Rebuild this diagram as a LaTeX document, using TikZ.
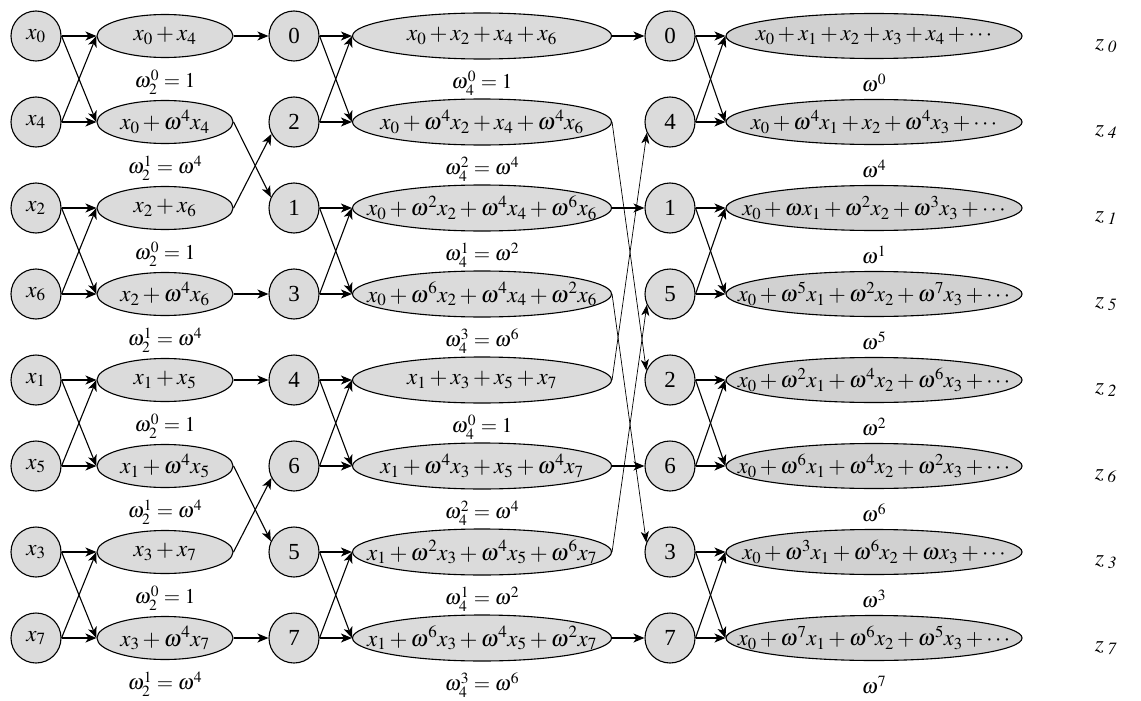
\documentclass[tikz,border=0pt]{standalone}
\usepackage{mathptmx}
\usepackage{fontspec}
\setmainfont{Liberation Serif}
\usetikzlibrary{arrows.meta,shapes.geometric}

% zero-width math text, so that an oval keeps its fixed size
\newcommand{\ovaltext}[1]{\makebox[0pt]{$#1$}}
% vertical position of row #1
\newcommand{\rowy}[1]{36+86*#1}

\tikzset{
  dotnode/.style={circle, draw, line width=1.1pt, fill=black!14,
    minimum size=50pt, inner sep=0pt, font=\fontsize{23}{26}\selectfont},
  oval/.style={ellipse, draw, line width=1.1pt, fill=black!14, inner sep=0pt,
    font=\fontsize{23}{26}\selectfont},
  ovalA/.style={oval, minimum width=136pt, minimum height=43pt},
  ovalB/.style={oval, minimum width=259pt, minimum height=46pt},
  ovalC/.style={oval, minimum width=296pt, minimum height=45pt,
    fill=black!18, font=\fontsize{22.5}{25}\selectfont},
  twiddle/.style={font=\fontsize{21}{24}\selectfont, inner sep=0pt},
  outlabel/.style={font=\fontsize{23}{25}\selectfont, inner sep=0pt},
  arr/.style={line width=1.1pt, -{Stealth[length=11pt,width=9pt,inset=3pt]}},
  longarr/.style={line width=0.7pt, -{Stealth[length=11pt,width=8pt,inset=3pt]}},
}

\begin{document}
\begin{tikzpicture}[x=1pt,y=-1pt]
\useasboundingbox (0,0) rectangle (1141,701);

% inputs in bit-reversed order
\foreach \i/\k in {0/0,1/4,2/2,3/6,4/1,5/5,6/3,7/7}
  \node[dotnode] (a\i) at (36,{\rowy{\i}}) {$x_{\k}$};

% first stage: 2-point butterflies
\foreach \i/\t in {0/{x_0+x_4},1/{x_0+\omega^4x_4},2/{x_2+x_6},3/{x_2+\omega^4x_6},
                   4/{x_1+x_5},5/{x_1+\omega^4x_5},6/{x_3+x_7},7/{x_3+\omega^4x_7}}
  \node[ovalA] (e\i) at (165,{\rowy{\i}}) {\ovaltext{\t}};
\foreach \i/\t in {0/{\omega_2^0=1},1/{\omega_2^1=\omega^4},2/{\omega_2^0=1},3/{\omega_2^1=\omega^4},
                   4/{\omega_2^0=1},5/{\omega_2^1=\omega^4},6/{\omega_2^0=1},7/{\omega_2^1=\omega^4}}
  \node[twiddle] (we\i) at (165,{\rowy{\i}+46}) {$\t$};

% intermediate indices after the first stage
\foreach \i/\k in {0/0,1/2,2/1,3/3,4/4,5/6,6/5,7/7}
  \node[dotnode] (b\i) at (294,{\rowy{\i}}) {\k};

% second stage: 4-point butterflies
\foreach \i/\t in {0/{x_0+x_2+x_4+x_6},1/{x_0+\omega^4x_2+x_4+\omega^4x_6},
                   2/{x_0+\omega^2x_2+\omega^4x_4+\omega^6x_6},3/{x_0+\omega^6x_2+\omega^4x_4+\omega^2x_6},
                   4/{x_1+x_3+x_5+x_7},5/{x_1+\omega^4x_3+x_5+\omega^4x_7},
                   6/{x_1+\omega^2x_3+\omega^4x_5+\omega^6x_7},7/{x_1+\omega^6x_3+\omega^4x_5+\omega^2x_7}}
  \node[ovalB] (f\i) at (482,{\rowy{\i}}) {\ovaltext{\t}};
\foreach \i/\t in {0/{\omega_4^0=1},1/{\omega_4^2=\omega^4},2/{\omega_4^1=\omega^2},3/{\omega_4^3=\omega^6},
                   4/{\omega_4^0=1},5/{\omega_4^2=\omega^4},6/{\omega_4^1=\omega^2},7/{\omega_4^3=\omega^6}}
  \node[twiddle] (wf\i) at (482,{\rowy{\i}+47}) {$\t$};

% indices after the second stage
\foreach \i/\k in {0/0,1/4,2/1,3/5,4/2,5/6,6/3,7/7}
  \node[dotnode] (c\i) at (670,{\rowy{\i}}) {\k};

% third stage: 8-point outputs
\foreach \i/\t in {0/{x_0+x_1+x_2+x_3+x_4+\cdots},1/{x_0+\omega^4x_1+x_2+\omega^4x_3+\cdots},
                   2/{x_0+\omega x_1+\omega^2x_2+\omega^3x_3+\cdots},3/{x_0+\omega^5x_1+\omega^2x_2+\omega^7x_3+\cdots},
                   4/{x_0+\omega^2x_1+\omega^4x_2+\omega^6x_3+\cdots},5/{x_0+\omega^6x_1+\omega^4x_2+\omega^2x_3+\cdots},
                   6/{x_0+\omega^3x_1+\omega^6x_2+\omega x_3+\cdots},7/{x_0+\omega^7x_1+\omega^6x_2+\omega^5x_3+\cdots}}
  \node[ovalC] (g\i) at (874,{\rowy{\i}}) {\ovaltext{\t}};
\foreach \i/\k in {0/0,1/4,2/1,3/5,4/2,5/6,6/3,7/7}{
  \node[twiddle] (wg\i) at (874,{\rowy{\i}+47}) {$\omega^{\k}$};
  \node[outlabel] (z\i) at (1106,{\rowy{\i}+10}) {$z_{\;\mathit{\k}}$};
}

% butterflies between inputs and first stage
\foreach \p/\q in {0/1,2/3,4/5,6/7}{
  \draw[arr] (a\p.east) -- (e\p.west);
  \draw[arr] (a\p.east) -- (e\q.west);
  \draw[arr] (a\q.east) -- (e\p.west);
  \draw[arr] (a\q.east) -- (e\q.west);
}

% first stage to intermediate indices
\draw[arr] (e0.east) -- (b0.west);
\draw[arr] (e1.east) -- (b2.155);
\draw[arr] (e2.east) -- (b1.208);
\draw[arr] (e3.east) -- (b3.west);
\draw[arr] (e4.east) -- (b4.west);
\draw[arr] (e5.east) -- (b6.155);
\draw[arr] (e6.east) -- (b5.208);
\draw[arr] (e7.east) -- (b7.west);

% butterflies of the second stage
\foreach \p/\q in {0/1,2/3,4/5,6/7}{
  \draw[arr] (b\p.east) -- (f\p.west);
  \draw[arr] (b\p.east) -- (f\q.west);
  \draw[arr] (b\q.east) -- (f\p.west);
  \draw[arr] (b\q.east) -- (f\q.west);
}

% second stage to indices
\draw[arr] (f0.east) -- (c0.west);
\draw[longarr] (f1.east) -- (c4.158);
\draw[arr] (f2.east) -- (c2.west);
\draw[longarr] (f3.east) -- (c6.158);
\draw[longarr] (f4.east) -- (c1.205);
\draw[arr] (f5.east) -- (c5.west);
\draw[longarr] (f6.east) -- (c3.205);
\draw[arr] (f7.east) -- (c7.west);

% butterflies of the third stage
\foreach \p/\q in {0/1,2/3,4/5,6/7}{
  \draw[arr] (c\p.east) -- (g\p.west);
  \draw[arr] (c\p.east) -- (g\q.west);
  \draw[arr] (c\q.east) -- (g\p.west);
  \draw[arr] (c\q.east) -- (g\q.west);
}
\end{tikzpicture}
\end{document}
